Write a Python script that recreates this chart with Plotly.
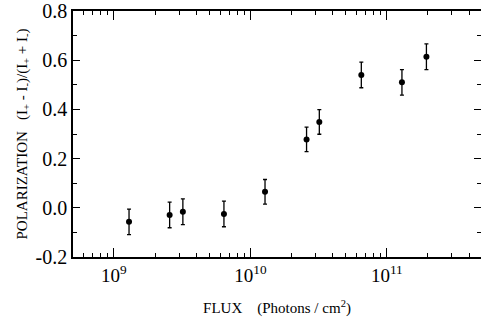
import plotly.graph_objects as go

flux = [1.29e9, 2.56e9, 3.2e9, 6.4e9, 1.28e10, 2.58e10, 3.2e10, 6.5e10, 1.29e11, 1.95e11]
polarization = [-0.057, -0.029, -0.016, -0.025, 0.065, 0.278, 0.349, 0.54, 0.51, 0.614]
err = [0.052, 0.052, 0.052, 0.052, 0.05, 0.05, 0.05, 0.052, 0.052, 0.052]

x_tickvals = [1e9, 1e10, 1e11]
x_ticktext = ["10<sup>9</sup>", "10<sup>10</sup>", "10<sup>11</sup>"]
y_tickvals = [-0.2, 0.0, 0.2, 0.4, 0.6, 0.8]
y_ticktext = ["-0.2", "0.0", "0.2", "0.4", "0.6", "0.8"]

font = "Liberation Serif, Times New Roman, serif"

fig = go.Figure(go.Scatter(
    x=flux, y=polarization, mode="markers",
    marker=dict(color="black", size=6),
    error_y=dict(type="data", array=err, color="black", thickness=1.3, width=2),
))

fig.update_layout(
    width=481, height=330,
    margin=dict(l=73, r=0, t=11, b=73),
    paper_bgcolor="white", plot_bgcolor="white",
    showlegend=False,
    font=dict(family=font, color="black"),
)
fig.update_xaxes(
    type="log", range=[8.70, 11.69], automargin=False,
    tickvals=x_tickvals, ticktext=x_ticktext,
    ticks="inside", ticklen=9, tickwidth=1.2, tickcolor="black",
    minor=dict(ticks="inside", ticklen=4, tickwidth=1, tickcolor="black", dtick="D1"),
    showline=True, linecolor="black", linewidth=1.5, mirror="allticks",
    showgrid=False, zeroline=False,
    tickfont=dict(size=19, family=font),
    title=dict(text="FLUX    (Photons / cm<sup>2</sup>)", font=dict(size=15, family=font), standoff=18),
)
fig.update_yaxes(
    range=[-0.2, 0.8], automargin=False,
    tickvals=y_tickvals, ticktext=y_ticktext,
    ticks="inside", ticklen=7, tickwidth=1.2, tickcolor="black",
    minor=dict(ticks="inside", ticklen=4, tickwidth=1, tickcolor="black", dtick=0.1),
    showline=True, linecolor="black", linewidth=1.5, mirror="allticks",
    showgrid=False, zeroline=False,
    tickfont=dict(size=20, family=font),
    title=dict(text="POLARIZATION   (I<sub>+</sub> - I<sub>-</sub>)/(I<sub>+</sub> + I<sub>-</sub>)",
               font=dict(size=15, family=font), standoff=4),
)

fig.write_html(
    "out.html",
    config={"displayModeBar": False},
    post_script="document.body.style.margin='0';document.body.style.overflow='hidden';",
)
